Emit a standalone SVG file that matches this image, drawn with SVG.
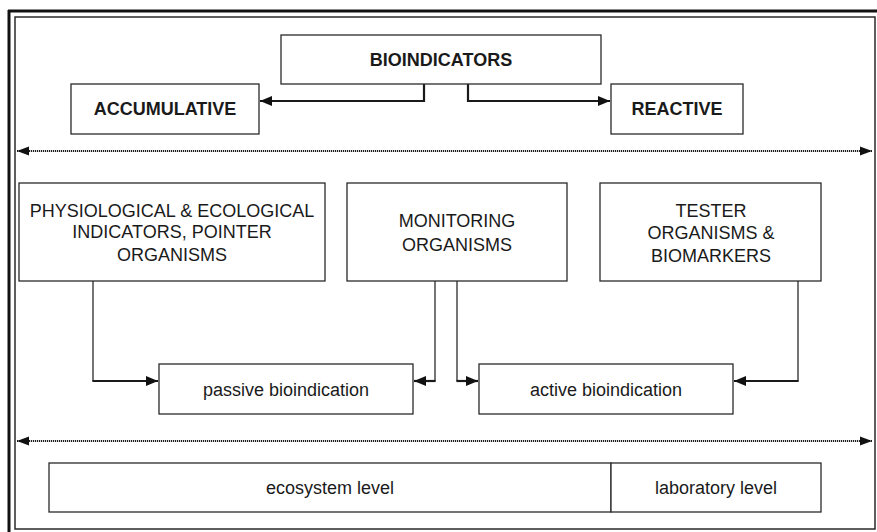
<svg xmlns="http://www.w3.org/2000/svg" width="877" height="532" viewBox="0 0 877 532">
<style>
  .box { fill: #fff; stroke: #2a2a2a; stroke-width: 1.3; }
  .t { font-family: "Liberation Sans", Arial, sans-serif; font-size: 18px; fill: #1a1a1a; text-anchor: middle; }
  .b { font-weight: bold; }
  .ln { fill: none; stroke: #2a2a2a; stroke-width: 1.3; }
  .thick { fill: none; stroke: #1a1a1a; stroke-width: 2.2; }
  .dot { fill: none; stroke: #1e1e1e; stroke-width: 2.2; stroke-dasharray: 1.2 0.8; }
</style>
<defs>
  <marker id="ah" markerUnits="userSpaceOnUse" markerWidth="12" markerHeight="12" viewBox="0 0 12 12" refX="12" refY="6" orient="auto">
    <path d="M0,1 L12,6 L0,11 Z" fill="#111"/>
  </marker>
  <marker id="ahs" markerUnits="userSpaceOnUse" markerWidth="12" markerHeight="12" viewBox="0 0 12 12" refX="12" refY="6" orient="auto-start-reverse">
    <path d="M0,1.5 L12,6 L0,10.5 Z" fill="#111"/>
  </marker>
</defs>
<rect x="0" y="0" width="877" height="532" fill="#fff"/>
<g id="frame">
  <line x1="8" y1="11" x2="877" y2="11" stroke="#111" stroke-width="3"/>
  <line x1="9" y1="10" x2="9" y2="532" stroke="#111" stroke-width="3"/>
  <rect x="15" y="17" width="860" height="512" fill="none" stroke="#2a2a2a" stroke-width="1.5"/>
</g>
<g id="connectors">
  <path class="thick" d="M424,84 L424,101 L260,101" marker-end="url(#ah)"/>
  <path class="thick" d="M468,84 L468,101 L610,101" marker-end="url(#ah)"/>
  <line class="dot" x1="17" y1="151" x2="872" y2="151" marker-start="url(#ahs)" marker-end="url(#ahs)"/>
  <line class="dot" x1="17" y1="441" x2="872" y2="441" marker-start="url(#ahs)" marker-end="url(#ahs)"/>
  <path class="ln" d="M93,281 L93,381"/>
  <path class="thick" d="M92.4,381 L158,381" marker-end="url(#ah)"/>
  <path class="ln" d="M435,281 L435,381"/>
  <path class="thick" d="M435.6,381 L414,381" marker-end="url(#ah)"/>
  <path class="ln" d="M457,281 L457,381"/>
  <path class="thick" d="M456.4,381 L478,381" marker-end="url(#ah)"/>
  <path class="ln" d="M798,281 L798,381"/>
  <path class="thick" d="M798.6,381 L734,381" marker-end="url(#ah)"/>
</g>
<g id="bioindicators">
  <rect class="box" x="281" y="35" width="320" height="49"/>
  <text class="t b" x="441" y="66">BIOINDICATORS</text>
</g>
<g id="accumulative">
  <rect class="box" x="71" y="84" width="188" height="50"/>
  <text class="t b" x="165" y="115">ACCUMULATIVE</text>
</g>
<g id="reactive">
  <rect class="box" x="611" y="84" width="132" height="50"/>
  <text class="t b" x="677" y="115">REACTIVE</text>
</g>
<g id="physiological">
  <rect class="box" x="19" y="183" width="306" height="98"/>
  <text class="t" x="172" y="217">PHYSIOLOGICAL &amp; ECOLOGICAL</text>
  <text class="t" x="172" y="238">INDICATORS, POINTER</text>
  <text class="t" x="172" y="261">ORGANISMS</text>
</g>
<g id="monitoring">
  <rect class="box" x="347" y="183" width="220" height="98"/>
  <text class="t" x="457" y="227">MONITORING</text>
  <text class="t" x="457" y="251">ORGANISMS</text>
</g>
<g id="tester">
  <rect class="box" x="600" y="183" width="221" height="98"/>
  <text class="t" x="711" y="217">TESTER</text>
  <text class="t" x="711" y="239">ORGANISMS &amp;</text>
  <text class="t" x="711" y="262">BIOMARKERS</text>
</g>
<g id="passive">
  <rect class="box" x="159" y="364" width="254" height="50"/>
  <text class="t" x="286" y="396">passive bioindication</text>
</g>
<g id="active">
  <rect class="box" x="479" y="364" width="254" height="50"/>
  <text class="t" x="606" y="396">active bioindication</text>
</g>
<g id="ecosystem">
  <rect class="box" x="49" y="463" width="562" height="49"/>
  <text class="t" x="330" y="494">ecosystem level</text>
</g>
<g id="laboratory">
  <rect class="box" x="611" y="463" width="210" height="49"/>
  <text class="t" x="716" y="494">laboratory level</text>
</g>
</svg>
